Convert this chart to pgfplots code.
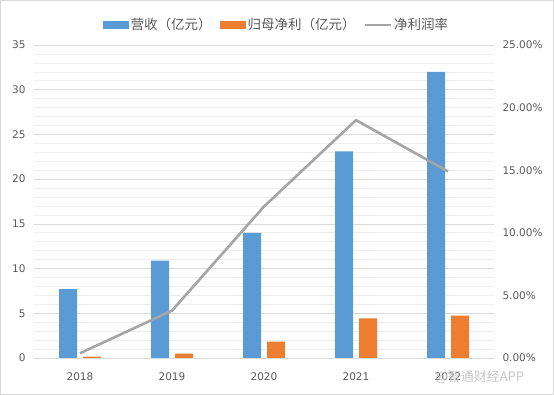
\documentclass[border=0pt]{standalone}
\usepackage{pgfplots}
\pgfplotsset{compat=1.18}
\usepackage{fontspec}
\setmainfont{DejaVu Sans}
\newfontfamily\cjk{Noto Sans CJK SC}
\definecolor{cblue}{HTML}{5B9BD5}
\definecolor{corange}{HTML}{ED7D31}
\definecolor{cgray}{HTML}{A5A5A5}
\definecolor{tickc}{HTML}{595959}
\definecolor{gridc}{HTML}{D9D9D9}
\definecolor{minorc}{HTML}{EDEDED}
\begin{document}
\begin{tikzpicture}[x=1pt,y=1pt]
\useasboundingbox (0,0) rectangle (554,395);
\draw[gridc, line width=0.8pt] (0.5,0.5) rectangle (553.5,394.5);
\begin{axis}[
  at={(34pt,37pt)}, anchor=south west,
  scale only axis, width=460pt, height=313pt,
  xmin=-0.5, xmax=4.5, ymin=0, ymax=35,
  xtick={0,...,4}, xticklabels={2018,2019,2020,2021,2022},
  ytick={0,5,...,35}, minor ytick={0,1,...,35},
  ymajorgrids, yminorgrids,
  major grid style={gridc, line width=0.6pt},
  minor grid style={minorc, line width=0.6pt},
  axis x line*=bottom, axis y line*=left,
  x axis line style={gridc, line width=0.8pt, -},
  y axis line style={draw=none},
  tick style={draw=none},
  major tick length=0pt, minor tick length=0pt,
  /pgf/number format/assume math mode=true,
  ticklabel style={font=\fontsize{10.5}{12}\selectfont, text=tickc},
  yticklabel style={xshift=-5pt},
  xticklabel style={yshift=-11pt},
  legend columns=3,
  legend style={draw=none, fill=none, at={(0.527,1.03)}, anchor=south,
    font=\cjk\fontsize{13.5}{15}\selectfont, text=tickc,
    /tikz/every even column/.append style={column sep=6pt}},
]
\addplot[ybar, bar width=18pt, bar shift=-12pt, fill=cblue, draw=none,
  legend image code/.code={\fill[cblue] (0pt,-4pt) rectangle (26pt,4pt);}]
  coordinates {(0,7.7) (1,10.9) (2,14.0) (3,23.1) (4,32.0)};
\addlegendentry{营收（亿元）}
\addplot[ybar, bar width=18pt, bar shift=12pt, fill=corange, draw=none,
  legend image code/.code={\fill[corange] (0pt,-4pt) rectangle (26pt,4pt);}]
  coordinates {(0,0.15) (1,0.48) (2,1.82) (3,4.44) (4,4.73)};
\addlegendentry{归母净利（亿元）}
\addlegendimage{cgray, line width=2.6pt, legend image code/.code={\draw[cgray, line width=2.6pt] (0pt,0pt) -- (26pt,0pt);}}
\addlegendentry{净利润率}
\end{axis}
\begin{axis}[
  at={(34pt,37pt)}, anchor=south west,
  scale only axis, width=460pt, height=313pt,
  xmin=-0.5, xmax=4.5, ymin=0, ymax=25,
  axis x line=none, axis y line*=right,
  y axis line style={draw=none},
  tick style={draw=none}, major tick length=0pt,
  ytick={0,5,...,25},
  yticklabel={\pgfmathprintnumber[fixed,fixed zerofill,precision=2]{\tick}\%},
  /pgf/number format/assume math mode=true,
  ticklabel style={font=\fontsize{10.5}{12}\selectfont, text=tickc},
  yticklabel style={xshift=5pt},
]
\addplot[cgray, line width=2.6pt, line join=round]
  coordinates {(0,0.38) (1,3.78) (2,12.1) (3,19.0) (4,14.9)};
\end{axis}
\node[anchor=west, text=gray!45, font=\cjk\fontsize{13}{14}\selectfont] at (432,18) {@智通财经APP};
\end{tikzpicture}
\end{document}
